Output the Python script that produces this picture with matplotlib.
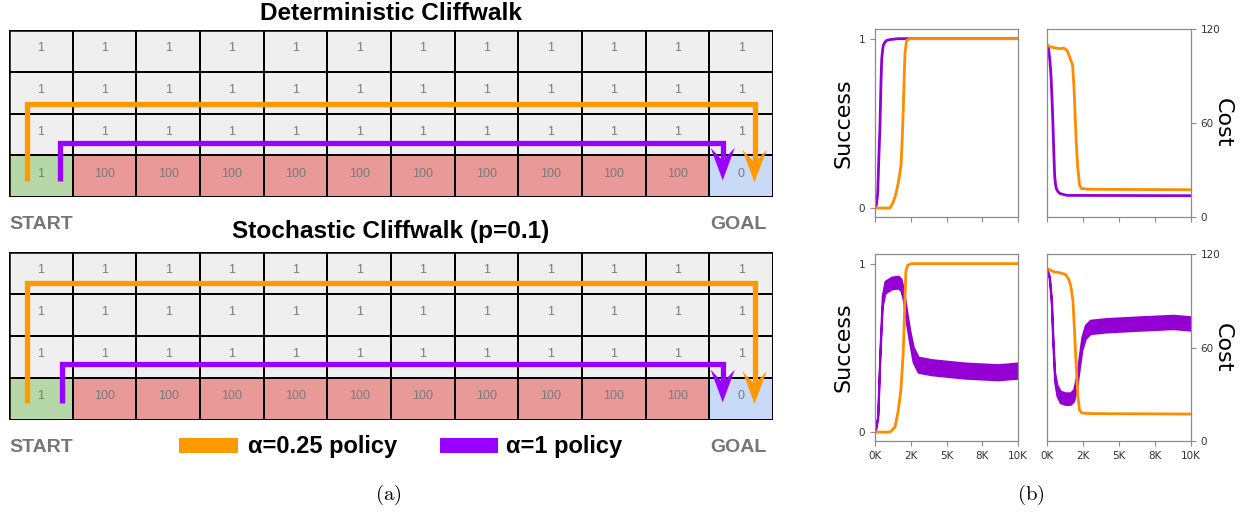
import matplotlib
matplotlib.use('Agg')
import matplotlib.pyplot as plt
from matplotlib.colors import ListedColormap
from matplotlib.patches import Polygon, Rectangle
from matplotlib.ticker import FixedLocator, FuncFormatter
import numpy as np

plt.rcParams['mathtext.fontset'] = 'cm'

W, H = 1245, 516

# ---- cliffwalk grid (row 0 = top) ----
# 0 = plain, 1 = cliff, 2 = start, 3 = goal
cell_type = [[0] * 12, [0] * 12, [0] * 12, [2] + [1] * 10 + [3]]
cell_cost = [['1'] * 12, ['1'] * 12, ['1'] * 12, ['1'] + ['100'] * 10 + ['0']]
cell_colors = ['#efefef', '#ea9999', '#b6d7a8', '#c9daf8']

# policy paths in grid units (last point = arrow tip)
det_orange_px = [0.28, 0.28, 11.71, 11.71]
det_orange_py = [3.62, 1.77, 1.77, 3.65]
det_purple_px = [0.80, 0.80, 11.21, 11.21]
det_purple_py = [3.62, 2.71, 2.71, 3.60]
sto_orange_px = [0.28, 0.28, 11.71, 11.71]
sto_orange_py = [3.60, 0.74, 0.74, 3.62]
sto_purple_px = [0.83, 0.83, 11.21, 11.21]
sto_purple_py = [3.60, 2.67, 2.67, 3.58]

# ---- learning curves (episodes) ----
det_succ_purple_x = [0, 100, 190, 270, 350, 420, 470, 530, 580, 700, 820, 1100, 1630, 10000]
det_succ_purple_y = [0.0, 0.02, 0.09, 0.3, 0.49, 0.75, 0.88, 0.93, 0.96, 0.98, 0.99, 0.995, 1.0, 1.0]
det_succ_orange_x = [0, 1050, 1280, 1450, 1630, 1820, 1900, 1980, 2050, 2100, 2210, 2450, 10000]
det_succ_orange_y = [0.0, 0.0, 0.035, 0.08, 0.15, 0.25, 0.4, 0.59, 0.8, 0.92, 0.99, 1.0, 1.0]

det_cost_purple_x = [0, 115, 200, 280, 350, 415, 470, 530, 590, 650, 780, 920, 1390, 10000]
det_cost_purple_y = [110, 107, 100, 90, 75, 58.5, 42, 26.6, 21, 18, 16, 14.9, 13.8, 13.6]
det_cost_orange_x = [0, 230, 925, 1150, 1390, 1620, 1780, 1890, 1960, 2030, 2120, 2260, 2420, 3000, 10000]
det_cost_orange_y = [110, 108.5, 107.4, 107.9, 106.4, 101, 96.8, 79.8, 63, 47.9, 33, 20.2, 18.1, 17.7, 17.4]

sto_succ_orange_x = [0, 1050, 1400, 1630, 1810, 1980, 2090, 2160, 2280, 2560, 10000]
sto_succ_orange_y = [0, 0, 0.03, 0.13, 0.25, 0.48, 0.78, 0.955, 0.99, 1.0, 1.0]
sto_succ_purple_x = [0, 190, 350, 510, 700, 1160, 1630, 1810, 1980, 2210, 2440, 2670, 3020, 3950, 6280, 8600, 10000]
sto_succ_purple_y = [0, 0.09, 0.48, 0.78, 0.86, 0.885, 0.89, 0.875, 0.82, 0.68, 0.56, 0.46, 0.40, 0.385, 0.365, 0.355, 0.365]
sto_succ_purple_w = [0, 0.01, 0.02, 0.03, 0.035, 0.035, 0.035, 0.035, 0.035, 0.04, 0.04, 0.045, 0.045, 0.045, 0.045, 0.045, 0.045]

sto_cost_orange_x = [0, 460, 920, 1270, 1500, 1660, 1800, 1920, 2030, 2150, 2260, 2420, 3000, 10000]
sto_cost_orange_y = [110.7, 108.6, 107.9, 107, 104, 99, 90, 69, 47.5, 28, 19.7, 18, 17.6, 17.3]
sto_cost_purple_x = [0, 160, 300, 415, 530, 690, 920, 1270, 1620, 1850, 2080, 2260, 2420, 2660, 3000, 4160, 6470, 8780, 10000]
sto_cost_purple_y = [109.6, 105, 90, 62.5, 41, 32.5, 28.3, 27.2, 27.2, 29.3, 39, 51.8, 62.5, 70, 73.2, 74.3, 75.4, 76.4, 75.4]
sto_cost_purple_w = [0.5, 1, 2, 2.5, 3, 3.5, 3.7, 3.7, 3.7, 3.7, 3.7, 4, 4.2, 4.3, 4.3, 4.3, 4.3, 4.3, 4.3]

xticks = [0, 2500, 5000, 7500, 10000]

ORANGE_G, PURPLE_G = '#ff9900', '#9900ff'
ORANGE_P, PURPLE_P = '#ff8c00', '#9400d3'
SANS = 'Liberation Sans'

fig = plt.figure(figsize=(W / 100, H / 100), dpi=100)


def px_axes(left, top, right, bottom):
    return fig.add_axes([left / W, 1 - bottom / H, (right - left) / W, (bottom - top) / H])


def draw_arrow_path(ax, xs, ys, color):
    w, L = 0.38, 0.78
    tip = ys[-1]
    lx = list(xs)
    ly = list(ys[:-1]) + [tip - 0.6 * L]
    ax.plot(lx, ly, color=color, lw=3.8, solid_joinstyle='miter',
            solid_capstyle='butt', zorder=4, clip_on=False)
    x = xs[-1]
    pts = [(x, tip), (x - w / 2, tip - L), (x, tip - 0.6 * L), (x + w / 2, tip - L)]
    ax.add_patch(Polygon(pts, closed=True, facecolor=color, edgecolor='none', zorder=5))


def draw_grid(ax, title, title_y, paths):
    ax.pcolormesh(np.arange(13), np.arange(5), np.array(cell_type),
                  cmap=ListedColormap(cell_colors), vmin=-0.5, vmax=3.5,
                  edgecolors='black', linewidth=1.15)
    ax.set_xlim(0, 12)
    ax.set_ylim(4, 0)
    ax.axis('off')
    ax.add_patch(Rectangle((0, 0), 12, 4, fill=False, edgecolor='black', lw=1.8, zorder=3))
    for r in range(4):
        for c in range(12):
            ax.text(c + 0.5, r + 0.44, cell_cost[r][c], ha='center', va='center',
                    fontsize=9, color='#7a7a7a', family=SANS)
    ax.text(6, title_y, title, ha='center', va='baseline', fontsize=17.6,
            fontweight='bold', family=SANS, clip_on=False)
    ax.text(0.5, 4.77, 'START', ha='center', va='baseline', fontsize=14,
            fontweight='bold', color='#757575', family=SANS, clip_on=False)
    ax.text(11.45, 4.77, 'GOAL', ha='center', va='baseline', fontsize=14,
            fontweight='bold', color='#757575', family=SANS, clip_on=False)
    for xs, ys, col in paths:
        draw_arrow_path(ax, xs, ys, col)


g1 = px_axes(9, 30, 773, 197)
draw_grid(g1, 'Deterministic Cliffwalk', -0.25,
          [(det_orange_px, det_orange_py, ORANGE_G), (det_purple_px, det_purple_py, PURPLE_G)])
g2 = px_axes(9, 252, 773, 420)
draw_grid(g2, 'Stochastic Cliffwalk (p=0.1)', -0.33,
          [(sto_orange_px, sto_orange_py, ORANGE_G), (sto_purple_px, sto_purple_py, PURPLE_G)])

# legend
for x0, x1, tx, col, lab in [(2.67, 3.6, 3.75, ORANGE_G, 'α=0.25 policy'),
                             (6.77, 7.68, 7.8, PURPLE_G, 'α=1 policy')]:
    g2.add_patch(Rectangle((x0, 4.43), x1 - x0, 0.36, facecolor=col, edgecolor='none',
                           clip_on=False))
    g2.text(tx, 4.79, lab, ha='left', va='baseline', fontsize=17, fontweight='bold',
            family=SANS, clip_on=False)

fig.text(388 / W, 1 - 495 / H, r'$\mathrm{(a)}$', ha='center', va='center', fontsize=15)
fig.text(1031 / W, 1 - 495 / H, r'$\mathrm{(b)}$', ha='center', va='center', fontsize=15)

# ---- learning curve panels ----
def style_axes(ax, side, show_x):
    ax.set_xlim(0, 10000)
    ax.xaxis.set_major_locator(FixedLocator(xticks))
    ax.xaxis.set_major_formatter(FuncFormatter(lambda v, p: f'{v / 1000:.0f}K'))
    if not show_x:
        ax.set_xticklabels([])
    for s in ax.spines.values():
        s.set_color('#8c8c8c')
        s.set_linewidth(0.9)
    ax.tick_params(colors='#8c8c8c', labelcolor='#333333', labelsize=7.5, length=3.5, width=0.8)
    if side == 'left':
        ax.set_ylim(-0.053, 1.057)
        ax.set_yticks([0, 1])
        ax.set_ylabel('Success', fontsize=16, labelpad=4)
    else:
        ax.set_ylim(0, 120)
        ax.set_yticks([0, 60, 120])
        ax.yaxis.tick_right()
        ax.yaxis.set_label_position('right')
        ax.set_ylabel('Cost', fontsize=16, rotation=270, labelpad=9)


a1 = px_axes(875, 29, 1018, 217)
a1.plot(det_succ_purple_x, det_succ_purple_y, color=PURPLE_P, lw=2)
a1.plot(det_succ_orange_x, det_succ_orange_y, color=ORANGE_P, lw=2)
style_axes(a1, 'left', False)

a2 = px_axes(1047, 29, 1191, 217)
a2.plot(det_cost_purple_x, det_cost_purple_y, color=PURPLE_P, lw=2)
a2.plot(det_cost_orange_x, det_cost_orange_y, color=ORANGE_P, lw=2)
style_axes(a2, 'right', False)

a3 = px_axes(875, 254, 1018, 441)
py = np.array(sto_succ_purple_y)
pw = np.array(sto_succ_purple_w)
a3.fill_between(sto_succ_purple_x, py - pw, py + pw, color=PURPLE_P, lw=1.5, edgecolor=PURPLE_P)
a3.plot(sto_succ_orange_x, sto_succ_orange_y, color=ORANGE_P, lw=2)
style_axes(a3, 'left', True)

a4 = px_axes(1047, 254, 1191, 441)
py = np.array(sto_cost_purple_y)
pw = np.array(sto_cost_purple_w)
a4.fill_between(sto_cost_purple_x, py - pw, py + pw, color=PURPLE_P, lw=1.5, edgecolor=PURPLE_P)
a4.plot(sto_cost_orange_x, sto_cost_orange_y, color=ORANGE_P, lw=2)
style_axes(a4, 'right', True)

fig.savefig('out.png', dpi=100)
